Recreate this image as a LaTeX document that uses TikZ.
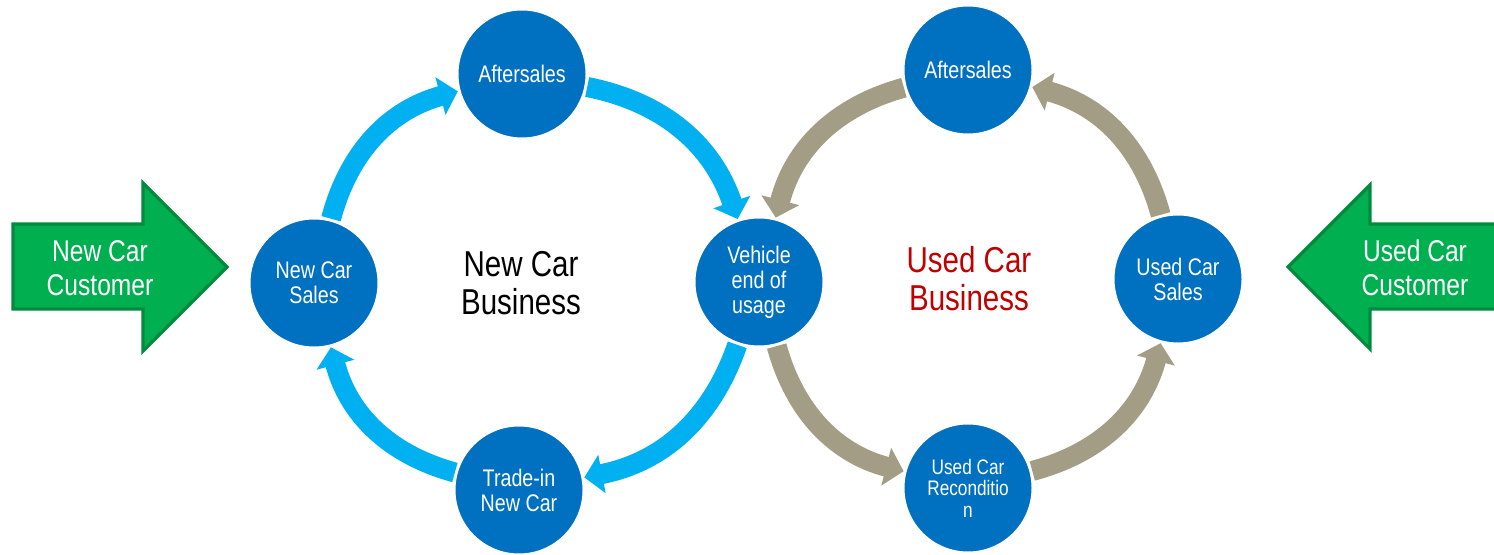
\documentclass[tikz,border=0pt]{standalone}
\usepackage{fontspec}
\setmainfont{Liberation Sans}[FakeStretch=0.82]
\usetikzlibrary{arrows.meta}
\definecolor{stageblue}{HTML}{0070C0}
\definecolor{newblue}{HTML}{00B0F0}
\definecolor{usedtan}{HTML}{A39D85}
\definecolor{custfill}{HTML}{00B050}
\definecolor{custline}{HTML}{008A3E}
\definecolor{usedred}{HTML}{C00000}

\begin{document}
\begin{tikzpicture}[x=0.5pt,y=-0.5pt,
  stage/.style={circle,fill=stageblue,draw=white,line width=1.5pt,minimum size=65pt,inner sep=0pt,text=white,align=center,font=\fontsize{12}{12.5}\selectfont},
  newflow/.style={draw=newblue,line width=10pt,-{Triangle[width=19pt,length=9pt]}},
  usedflow/.style={draw=usedtan,line width=10pt,-{Triangle[width=19pt,length=9pt]}},
  custarrow/.style={draw=custline,fill=custfill,line width=1.6pt,line join=miter},
  custtext/.style={text=white,align=center,font=\fontsize{15}{17}\selectfont},
  bizlabel/.style={align=center,font=\fontsize{18}{19}\selectfont}]
\clip (0,0) rectangle (1494,555);
\fill [white] (0,0) rectangle (1494,555);
\draw [custarrow] (13,224) -- (143,224) -- (143,183) -- (227,267) -- (143,351) -- (143,309) -- (13,309) -- cycle;
\draw [custarrow] (1500,224) -- (1370,224) -- (1370,185) -- (1288,267) -- (1370,349) -- (1370,309) -- (1500,309) -- cycle;
\node (newcust) at (100,268) [custtext] {New Car\\Customer};
\node (usedcust) at (1415,268) [custtext] {Used Car\\Customer};
\node (as1) at (522,74) [stage] {Aftersales};
\node (ncs) at (314,283) [stage] {New Car\\Sales};
\node (veh) at (759,282) [stage] {Vehicle\\end of\\usage};
\node (tin) at (519,490) [stage] {Trade-in\\New Car};
\node (as2) at (968,70) [stage] {Aftersales};
\node (ucs) at (1178,279) [stage] {Used Car\\Sales};
\node (ucr) at (968,488) [stage, font=\fontsize{10.5}{10.8}\selectfont] {Used Car\\Reconditio\\n};
\node (newbiz) at (521,283) [bizlabel] {New Car\\Business};
\node (usedbiz) at (969,279) [bizlabel, text=usedred] {Used Car\\Business};
\draw [newflow] (ncs) to [bend left=30] (as1);
\draw [newflow] (as1) to [bend left=30] (veh);
\draw [newflow] (veh) to [bend left=30] (tin);
\draw [newflow] (tin) to [bend left=30] (ncs);
\draw [usedflow] (veh) to [bend right=30] (ucr);
\draw [usedflow] (ucr) to [bend right=30] (ucs);
\draw [usedflow] (ucs) to [bend right=30] (as2);
\draw [usedflow] (as2) to [bend right=30] (veh);
\end{tikzpicture}
\end{document}
